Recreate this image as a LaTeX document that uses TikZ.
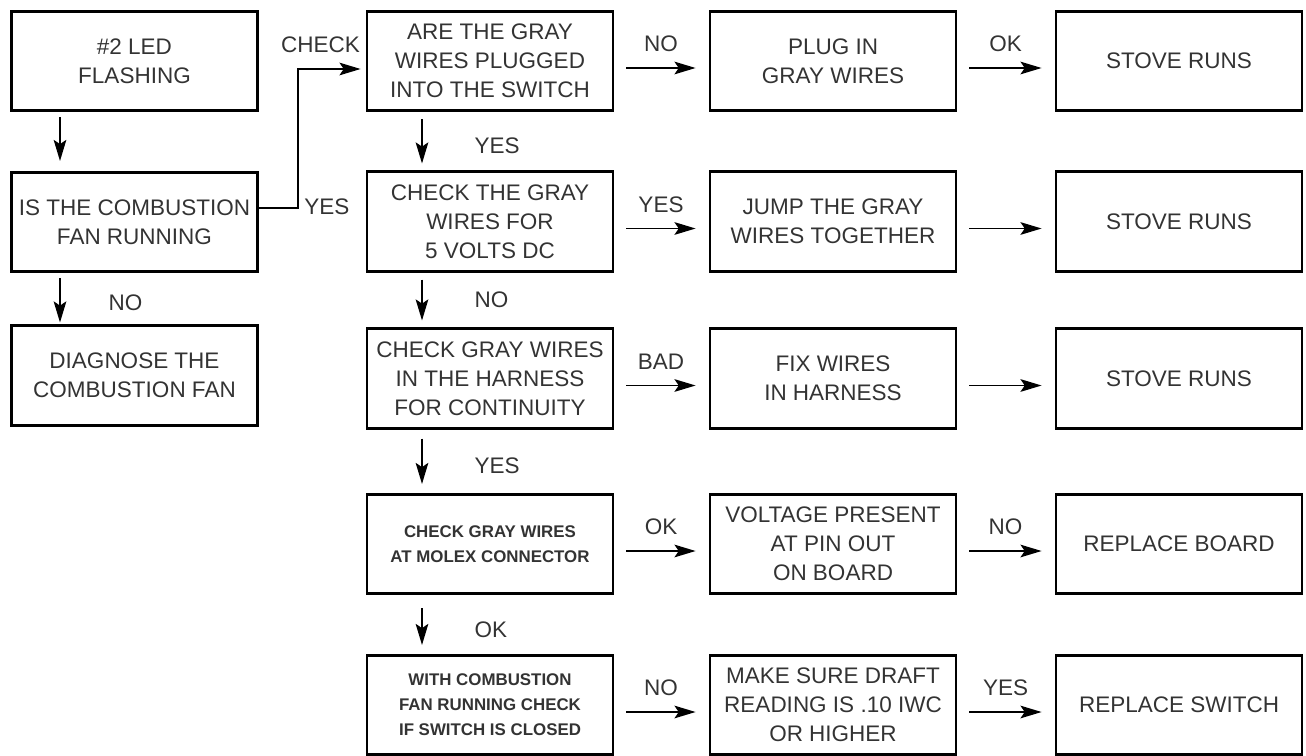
\documentclass[tikz,border=0pt]{standalone}
\usepackage{fontspec}
\setmainfont{Liberation Sans}
\usetikzlibrary{positioning,arrows.meta}

\begin{document}
\begin{tikzpicture}[x=0.025cm, y=-0.025cm,
  box/.style={draw, line width=2pt, minimum width=6.15cm, minimum height=2.48cm,
              inner sep=0pt, align=center, text=black!80,
              font=\fontsize{16}{20.5}\selectfont},
  small/.style={box, font=\fontsize{12}{17.8}\selectfont\bfseries},
  arr/.style={-{Stealth[length=15pt,width=9pt,inset=3pt]}, line width=1pt},
  lbl/.style={inner sep=0pt, text=black!80, font=\fontsize{16}{18}\selectfont}]
\useasboundingbox (0,0) rectangle (1306,755);
% left column
\node[box] (led) at (134.5,61) {\#2 LED\\ FLASHING};
\node[box] (fan) at (134.5,222) {IS THE COMBUSTION\\ FAN RUNNING};
\node[box] (diag) at (134.5,375.5) {DIAGNOSE THE\\ COMBUSTION FAN};
% checks
\node[box] (plugged) at (490,61) {ARE THE GRAY\\ WIRES PLUGGED\\ INTO THE SWITCH};
\node[box] (volts) at (490,221.5) {CHECK THE GRAY\\ WIRES FOR\\ 5 VOLTS DC};
\node[box] (harness) at (490,378.5) {CHECK GRAY WIRES\\ IN THE HARNESS\\ FOR CONTINUITY};
\node[small] (molex) at (490,544) {CHECK GRAY WIRES\\ AT MOLEX CONNECTOR};
\node[small] (closed) at (490,705) {WITH COMBUSTION\\ FAN RUNNING CHECK\\ IF SWITCH IS CLOSED};
% actions
\node[box] (plug) at (833,61) {PLUG IN\\ GRAY WIRES};
\node[box] (jump) at (833,221.5) {JUMP THE GRAY\\ WIRES TOGETHER};
\node[box] (fix) at (833,378.5) {FIX WIRES\\ IN HARNESS};
\node[box] (pinout) at (833,544) {VOLTAGE PRESENT\\ AT PIN OUT\\ ON BOARD};
\node[box] (draft) at (833,705) {MAKE SURE DRAFT\\ READING IS .10 IWC\\ OR HIGHER};
% results
\node[box] (runs1) at (1179,61) {STOVE RUNS};
\node[box] (runs2) at (1179,221.5) {STOVE RUNS};
\node[box] (runs3) at (1179,378.5) {STOVE RUNS};
\node[box] (board) at (1179,544) {REPLACE BOARD};
\node[box] (switch) at (1179,705) {REPLACE SWITCH};
% down arrows
\draw[arr] ([shift={(-74.5,5)}]led.south) -- ([shift={(-74.5,-10)}]fan.north);
\draw[arr] ([shift={(-74.5,5)}]fan.south) -- ([shift={(-74.5,-2)}]diag.north)
  node[lbl, right=1.2cm, pos=0.55] (lno) {NO};
\draw[arr] ([shift={(-68,7)}]plugged.south) -- ([shift={(-68,-7)}]volts.north)
  node[lbl, right=1.3cm, pos=0.6] (lyes1) {YES};
\draw[arr] ([shift={(-68,7)}]volts.south) -- ([shift={(-68,-7)}]harness.north)
  node[lbl, right=1.3cm, pos=0.5] (lno1) {NO};
\draw[arr] ([shift={(-68,9)}]harness.south) -- ([shift={(-68,-9)}]molex.north)
  node[lbl, right=1.3cm, pos=0.6] (lyes2) {YES};
\draw[arr] ([shift={(-68,13)}]molex.south) -- ([shift={(-68,-9)}]closed.north)
  node[lbl, right=1.3cm, pos=0.6] (lok1) {OK};
% fan running -> check switch
\draw[arr] ([shift={(0,-14)}]fan.east) -- ++(39,0) |- ([shift={(-5,8)}]plugged.west);
\node[lbl] (lcheck) at ([shift={(-45,-16)}]plugged.west) {CHECK};
\node[lbl] (lyes0) at ([shift={(68,-15)}]fan.east) {YES};
% across
\draw[arr] ([shift={(12,7)}]plugged.east) -- node[lbl, above=11pt] (lno2) {NO} ([shift={(-13,7)}]plug.west);
\draw[arr] ([shift={(12,7)}]volts.east) -- node[lbl, above=11pt] (lyes3) {YES} ([shift={(-13,7)}]jump.west);
\draw[arr] ([shift={(12,7)}]harness.east) -- node[lbl, above=11pt] (lbad) {BAD} ([shift={(-13,7)}]fix.west);
\draw[arr] ([shift={(12,7)}]molex.east) -- node[lbl, above=11pt] (lok2) {OK} ([shift={(-13,7)}]pinout.west);
\draw[arr] ([shift={(12,7)}]closed.east) -- node[lbl, above=11pt] (lno3) {NO} ([shift={(-13,7)}]draft.west);
\draw[arr] ([shift={(12,7)}]plug.east) -- node[lbl, above=11pt] (lok3) {OK} ([shift={(-13,7)}]runs1.west);
\draw[arr] ([shift={(12,7)}]jump.east) -- ([shift={(-13,7)}]runs2.west);
\draw[arr] ([shift={(12,7)}]fix.east) -- ([shift={(-13,7)}]runs3.west);
\draw[arr] ([shift={(12,7)}]pinout.east) -- node[lbl, above=11pt] (lno4) {NO} ([shift={(-13,7)}]board.west);
\draw[arr] ([shift={(12,7)}]draft.east) -- node[lbl, above=11pt] (lyes4) {YES} ([shift={(-13,7)}]switch.west);
\end{tikzpicture}
\end{document}
